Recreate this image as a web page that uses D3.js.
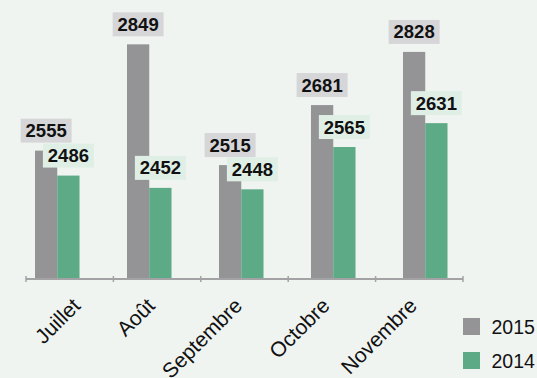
<!DOCTYPE html>
<html>
<head>
<meta charset="utf-8">
<script src="https://cdn.jsdelivr.net/npm/d3@7"></script>
<style>
  html, body { margin: 0; padding: 0; background: #f0f4f1; }
  svg { display: block; }
</style>
</head>
<body>
<div id="chart"></div>
<script>
// data
const months = ["Juillet", "Août", "Septembre", "Octobre", "Novembre"];
const years = ["2015", "2014"];
const values2015 = [2555, 2849, 2515, 2681, 2828];
const values2014 = [2486, 2452, 2448, 2565, 2631];

const W = 537, H = 378;
const colors = { "2015": "#949497", "2014": "#5caa86" };
const boxColors = { "2015": "#d6d6d8", "2014": "#dfefe6" };

const rows = months.map((m, i) => ({ month: m, "2015": values2015[i], "2014": values2014[i] }));

const svg = d3.select("#chart").append("svg")
    .attr("width", W)
    .attr("height", H);

svg.append("rect").attr("width", W).attr("height", H).attr("fill", "#f0f4f1");

const baseY = 279;

// échelle de l'axe (ticks entre catégories) et échelle des barres
const xAxis = d3.scaleBand().domain(months).range([26, 463]);
const x0 = d3.scaleBand().domain(months).range([35, 447.5]).paddingInner(0.516).paddingOuter(0);
const x1 = d3.scaleBand().domain(years).range([0, x0.bandwidth()]);

const y = d3.scaleLinear().domain([2200, 3000]).range([baseY, baseY - 800 * 0.3616]);

// barres
const groups = svg.append("g").selectAll("g")
    .data(rows)
    .join("g")
    .attr("transform", d => `translate(${x0(d.month)},0)`);

groups.selectAll("rect")
    .data(d => years.map(k => ({ key: k, value: d[k] })))
    .join("rect")
    .attr("x", d => x1(d.key))
    .attr("y", d => y(d.value))
    .attr("width", x1.bandwidth())
    .attr("height", d => baseY - y(d.value))
    .attr("fill", d => colors[d.key]);

// étiquettes de valeur
const labels = groups.selectAll("g.lab")
    .data(d => years.map(k => ({ key: k, value: d[k] })))
    .join("g")
    .attr("class", "lab")
    .attr("transform", d => `translate(${x1(d.key) + x1.bandwidth() / 2},${y(d.value) - 8})`);

labels.append("rect")
    .attr("x", -25.5)
    .attr("y", -24)
    .attr("width", 51)
    .attr("height", 24)
    .attr("fill", d => boxColors[d.key]);

labels.append("text")
    .attr("y", -5.5)
    .attr("text-anchor", "middle")
    .attr("font-family", "Liberation Sans, Arial, sans-serif")
    .attr("font-weight", "bold")
    .attr("font-size", 18.5)
    .attr("fill", "#111")
    .text(d => d.value);

// axe
const axis = svg.append("g");
axis.append("line")
    .attr("x1", xAxis.range()[0]).attr("x2", xAxis.range()[1])
    .attr("y1", baseY).attr("y2", baseY)
    .attr("stroke", "#a3a3a5").attr("stroke-width", 2);

const tickXs = months.map(m => xAxis(m)).concat([xAxis.range()[1]]);
axis.selectAll("line.tick")
    .data(tickXs)
    .join("line")
    .attr("class", "tick")
    .attr("x1", d => d).attr("x2", d => d)
    .attr("y1", baseY - 3).attr("y2", baseY + 3)
    .attr("stroke", "#a3a3a5").attr("stroke-width", 1.5);

axis.selectAll("text")
    .data(months)
    .join("text")
    .attr("transform", (d, i) => `translate(${xAxis(d) + xAxis.bandwidth() / 2 + (i === 0 ? 12 : -1)},${baseY + 28}) rotate(-45)`)
    .attr("text-anchor", "end")
    .attr("font-family", "Liberation Sans, Arial, sans-serif")
    .attr("font-size", 21)
    .attr("fill", "#111")
    .text(d => d);

// légende
const legend = svg.append("g").selectAll("g")
    .data(years)
    .join("g")
    .attr("transform", (d, i) => `translate(463,${318 + i * 34})`);

legend.append("rect")
    .attr("width", 17).attr("height", 17)
    .attr("fill", d => colors[d]);

legend.append("text")
    .attr("x", 28.5)
    .attr("y", 15.5)
    .attr("font-family", "Liberation Sans, Arial, sans-serif")
    .attr("font-size", 19.5)
    .attr("fill", "#111")
    .text(d => d);
</script>
</body>
</html>
